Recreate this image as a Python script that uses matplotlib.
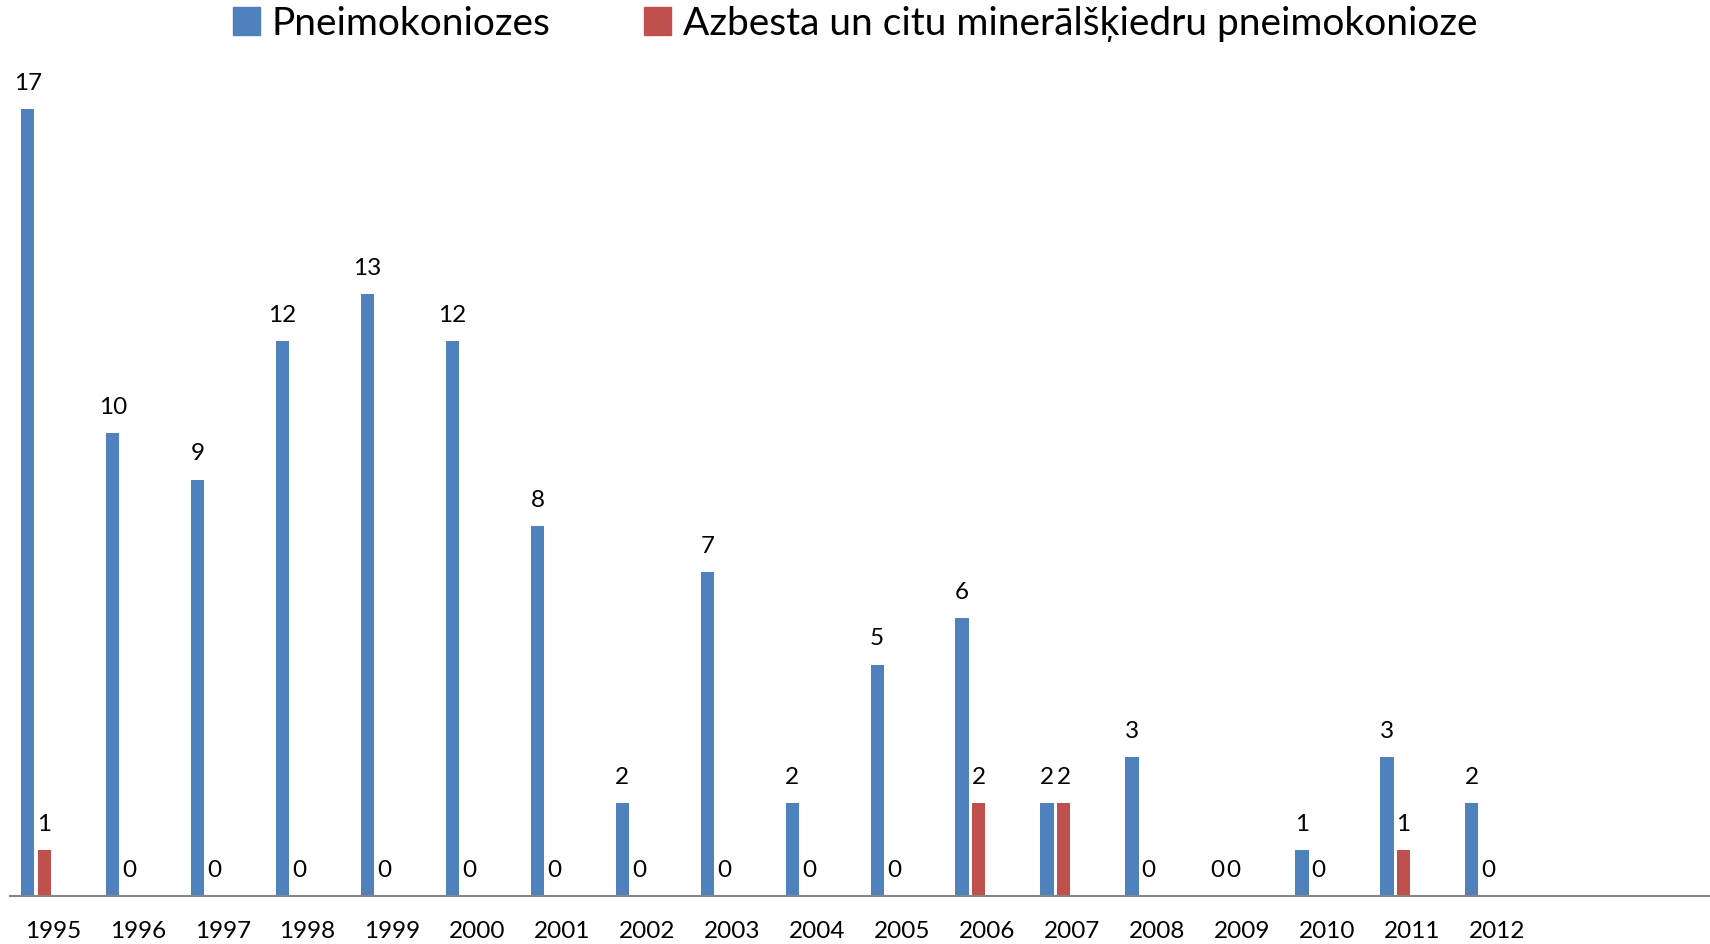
import numpy as np
import matplotlib.pyplot as plt
from matplotlib.patches import Patch

# data
years = ['1995', '1996', '1997', '1998', '1999', '2000', '2001', '2002', '2003',
         '2004', '2005', '2006', '2007', '2008', '2009', '2010', '2011', '2012']
pneimo = [17, 10, 9, 12, 13, 12, 8, 2, 7, 2, 5, 6, 2, 3, 0, 1, 3, 2]
azbest = [1, 0, 0, 0, 0, 0, 0, 0, 0, 0, 0, 2, 2, 0, 0, 0, 1, 0]
# the category axis has two empty slots at the end
categories = years + ['', '']
series_names = ['Pneimokoniozes', 'Azbesta un citu minerālšķiedru pneimokonioze']

plt.rcParams['font.family'] = ['Lato', 'DejaVu Sans']

blue = '#4F81BD'
red = '#C0504D'

fig = plt.figure(figsize=(17.1, 9.44), dpi=100)
ax = fig.add_axes([0.006, 0.0508, 0.9935, 0.8824])

x = np.arange(len(categories))
xs = x[:len(years)]
w = 0.157
step = 0.196

b1 = ax.bar(xs - 1.5 * step, pneimo, w, color=blue)
b2 = ax.bar(xs - 0.5 * step, azbest, w, color=red)

# data labels
for bars, vals in [(b1, pneimo), (b2, azbest)]:
    for rect, v in zip(bars, vals):
        ax.annotate(str(v), (rect.get_x() + rect.get_width() / 2, v),
                    xytext=(0, 18.5), textcoords='offset points',
                    ha='center', va='center', fontsize=17.5)

ax.set_xlim(-0.5, len(categories) - 0.5)
ax.set_ylim(0, 18)
for s in ['top', 'left', 'right']:
    ax.spines[s].set_visible(False)
ax.spines['bottom'].set_color('#868686')
ax.spines['bottom'].set_linewidth(1.5)
ax.set_yticks([])
ax.set_xticks(x, categories, fontsize=17.5)
ax.tick_params(axis='x', length=0, pad=18)

handles = [Patch(color=blue), Patch(color=red)]
fig.legend(handles, series_names, loc='center', bbox_to_anchor=(0.5, 0.975),
           ncol=2, frameon=False, fontsize=28, handlelength=0.7,
           handleheight=0.7, handletextpad=0.3, columnspacing=2.4)

fig.savefig('out.png', dpi=100)
